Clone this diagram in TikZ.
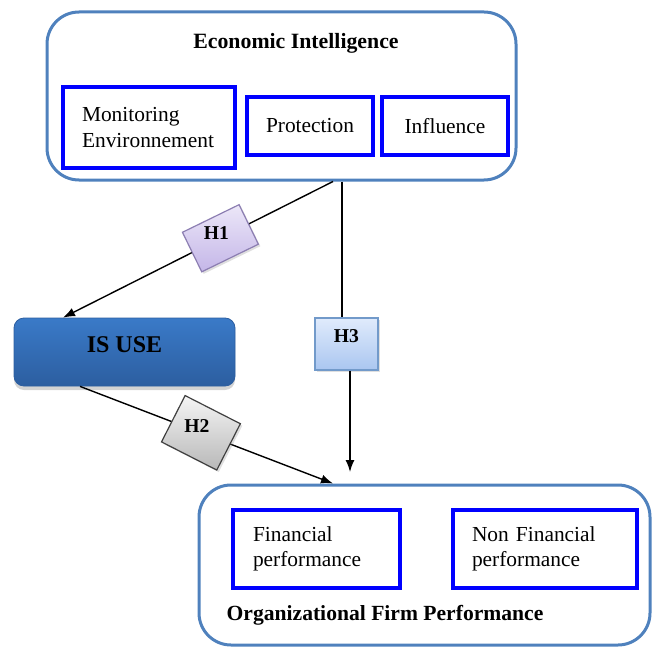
\documentclass[tikz,border=0pt]{standalone}
\usepackage{fontspec}
\setmainfont{Liberation Serif}
\usetikzlibrary{arrows.meta,calc,positioning,shadows}
\definecolor{frameblue}{RGB}{79,129,189}
\definecolor{useblue}{RGB}{58,122,200}
\definecolor{usedark}{RGB}{44,94,160}
\definecolor{lavtop}{RGB}{236,231,248}
\definecolor{lavbot}{RGB}{196,182,232}
\definecolor{lavline}{RGB}{140,126,178}
\definecolor{h3top}{RGB}{224,235,252}
\definecolor{h3bot}{RGB}{170,198,240}
\tikzset{%
	group/.style  = {draw=frameblue, line width=1.5pt, rectangle, rounded corners=16pt},
	item/.style   = {draw=blue, line width=2pt, rectangle, font=\fontsize{10.7}{12.8}\selectfont},
	hyp/.style    = {draw, rectangle, line width=0.6pt, drop shadow={opacity=0.25,shadow xshift=1pt,shadow yshift=-1pt}},
	hyptext/.style= {font=\bfseries\fontsize{9.8}{11}\selectfont},
	arrow/.style  = {line width=0.7pt,-{Latex[length=6pt,width=4.5pt]}},
}

\begin{document}
\begin{tikzpicture}[x=0.5pt,y=-0.5pt]
	\useasboundingbox (0,0) rectangle (653,647);
	
	% economic intelligence block
	\node[group, minimum width=234.5pt, minimum height=84pt] (ei) at (281.5,96) {};
	\node[font=\bfseries\fontsize{10.9}{13}\selectfont] (eititle) at (296,43) {Economic Intelligence};
	\node[item, minimum width=86pt, minimum height=40.5pt, text width=67pt, inner xsep=9.5pt, align=left] (mon) at (149,127.5) {Monitoring\\Environnement};
	\node[item, minimum width=63pt, minimum height=29pt] (prot) at (310,126) {Protection};
	\node[item, minimum width=63pt, minimum height=29pt] (infl) at (445,126) {Influence};
	
	% IS use
	\node[rectangle, rounded corners=5pt, top color=useblue, bottom color=usedark, draw=usedark, line width=0.4pt,
		minimum width=110.5pt, minimum height=34pt, text depth=7pt, font=\bfseries\fontsize{12}{14}\selectfont,
		drop shadow={opacity=0.35,shadow xshift=0pt,shadow yshift=-2pt}] (isuse) at (124.5,352) {IS USE};
	
	% firm performance block
	\node[group, minimum width=225.5pt, minimum height=80pt] (ofp) at (424.5,565) {};
	\node[item, minimum width=83.5pt, minimum height=39pt, text width=63.5pt, inner xsep=10pt, align=left] (fin) at (316.5,549) {Financial\\performance};
	\node[item, minimum width=92pt, minimum height=39pt, text width=73pt, inner xsep=9.5pt, align=left] (nfin) at (545,549) {Non Financial\\performance};
	\node[font=\bfseries\fontsize{10.8}{13}\selectfont] (ofptitle) at (385,615) {Organizational Firm Performance};
	
	% connectors
	\coordinate (h1from) at ($(ei.south)+(51.5,0)$);
	\coordinate (h1to) at ($(isuse.north)+(-61.5,0)$);
	\coordinate (h2from) at ($(isuse.south)+(-44.5,0)$);
	\coordinate (h2to) at ($(ofp.north)+(-91.5,0)$);
	\coordinate (h3from) at ($(ei.south)+(60.5,0)$);
	\coordinate (h3end) at (350,472);
	\draw[arrow] (h1from) -- (h1to);
	\draw[arrow] (h2from) -- (h2to);
	
	% hypotheses
	\node[hyp, rotate=26, draw=lavline, top color=lavtop, bottom color=lavbot, minimum width=31.5pt, minimum height=22pt] (h1) at ($(h1from)!0.417!(h1to)$) {};
	\node[hyptext] (h1lbl) at ([shift={(-4,-5)}]h1.center) {H1};
	\node[hyp, rotate=-27, draw=black!75, top color=black!4, bottom color=black!28, minimum width=31pt, minimum height=26pt] (h2) at ($(h2from)!0.478!(h2to)$) {};
	\node[hyptext] (h2lbl) at ([shift={(-4,-7)}]h2.center) {H2};
	\node[hyp, draw=frameblue!80, top color=h3top, bottom color=h3bot, minimum width=31.5pt, minimum height=26pt, text depth=8pt, hyptext] (h3) at (346.5,344) {H3};
	
	\draw[line width=0.7pt] (h3from) -- (h3from |- h3.north);
	\draw[arrow] ($(h3.south)+(3.5,0)$) -- (h3end);
\end{tikzpicture}
\end{document}
